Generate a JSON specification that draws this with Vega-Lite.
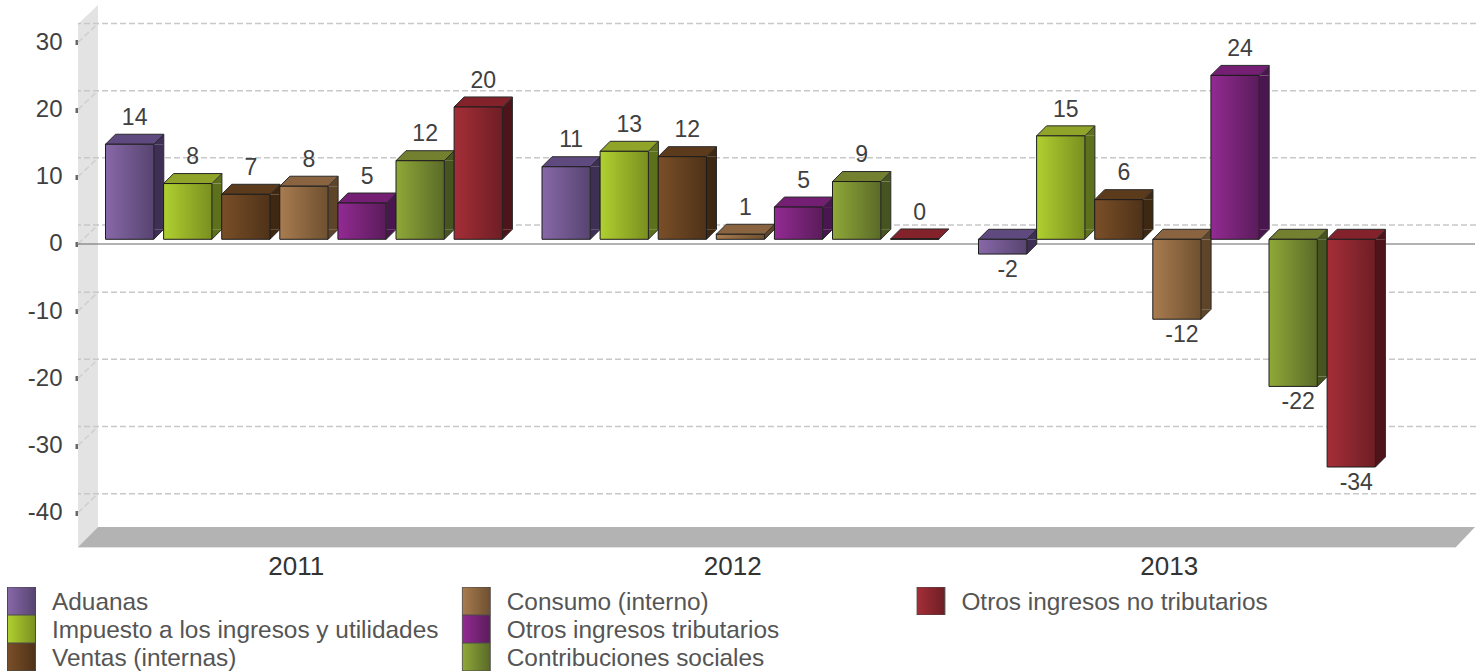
{"$schema":"https://vega.github.io/schema/vega-lite/v6.json","width":1378,"height":542,"autosize":{"type":"none"},"padding":{"left":78,"top":5,"right":27,"bottom":125},"background":"white",
"params":[{"name":"grad","expr":"{'Aduanas':{gradient:'linear',x1:0,y1:0,x2:1,y2:0,stops:[{offset:0,color:'#8768a8'},{offset:1,color:'#574470'}]},'Impuesto a los ingresos y utilidades':{gradient:'linear',x1:0,y1:0,x2:1,y2:0,stops:[{offset:0,color:'#b0d030'},{offset:1,color:'#7a8f20'}]},'Ventas (internas)':{gradient:'linear',x1:0,y1:0,x2:1,y2:0,stops:[{offset:0,color:'#7a4f28'},{offset:1,color:'#4e3218'}]},'Consumo (interno)':{gradient:'linear',x1:0,y1:0,x2:1,y2:0,stops:[{offset:0,color:'#a97c50'},{offset:1,color:'#6e5030'}]},'Otros ingresos tributarios':{gradient:'linear',x1:0,y1:0,x2:1,y2:0,stops:[{offset:0,color:'#932a93'},{offset:1,color:'#5a1c5a'}]},'Contribuciones sociales':{gradient:'linear',x1:0,y1:0,x2:1,y2:0,stops:[{offset:0,color:'#90a838'},{offset:1,color:'#5a6a28'}]},'Otros ingresos no tributarios':{gradient:'linear',x1:0,y1:0,x2:1,y2:0,stops:[{offset:0,color:'#a52e38'},{offset:1,color:'#6e1e24'}]}}"}],
"datasets":{"bars":[
{"year":"2011","series":"Aduanas","value":14.15,"upper":14.15,"lower":0},
{"year":"2011","series":"Impuesto a los ingresos y utilidades","value":8.3,"upper":8.3,"lower":0},
{"year":"2011","series":"Ventas (internas)","value":6.7,"upper":6.7,"lower":0},
{"year":"2011","series":"Consumo (interno)","value":7.9,"upper":7.9,"lower":0},
{"year":"2011","series":"Otros ingresos tributarios","value":5.4,"upper":5.4,"lower":0},
{"year":"2011","series":"Contribuciones sociales","value":11.7,"upper":11.7,"lower":0},
{"year":"2011","series":"Otros ingresos no tributarios","value":19.7,"upper":19.7,"lower":0},
{"year":"2012","series":"Aduanas","value":10.8,"upper":10.8,"lower":0},
{"year":"2012","series":"Impuesto a los ingresos y utilidades","value":13.1,"upper":13.1,"lower":0},
{"year":"2012","series":"Ventas (internas)","value":12.3,"upper":12.3,"lower":0},
{"year":"2012","series":"Consumo (interno)","value":0.75,"upper":0.75,"lower":0},
{"year":"2012","series":"Otros ingresos tributarios","value":4.8,"upper":4.8,"lower":0},
{"year":"2012","series":"Contribuciones sociales","value":8.6,"upper":8.6,"lower":0},
{"year":"2012","series":"Otros ingresos no tributarios","value":0.05,"upper":0.05,"lower":0},
{"year":"2013","series":"Aduanas","value":-2.2,"upper":0,"lower":-2.2},
{"year":"2013","series":"Impuesto a los ingresos y utilidades","value":15.4,"upper":15.4,"lower":0},
{"year":"2013","series":"Ventas (internas)","value":5.9,"upper":5.9,"lower":0},
{"year":"2013","series":"Consumo (interno)","value":-11.9,"upper":0,"lower":-11.9},
{"year":"2013","series":"Otros ingresos tributarios","value":24.4,"upper":24.4,"lower":0},
{"year":"2013","series":"Contribuciones sociales","value":-21.9,"upper":0,"lower":-21.9},
{"year":"2013","series":"Otros ingresos no tributarios","value":-33.9,"upper":0,"lower":-33.9}
],
"ticks":[{"tick":-40},{"tick":-30},{"tick":-20},{"tick":-10},{"tick":0},{"tick":10},{"tick":20},{"tick":30}]},
"config":{"view":{"stroke":null},"font":"Liberation Sans","locale":{"number":{"decimal":".","thousands":",","grouping":[3],"currency":["$",""],"minus":"-"}}},
"resolve":{"scale":{"fill":"independent","xOffset":"independent"}},
"layer":[
{"data":{"values":[{"piece":"wall"}]},"mark":{"type":"point","filled":true,"opacity":1,"size":4,"color":"#e3e3e3","shape":"M0 1L0 -523L20 -542L20 -20L0 0L1378 0L1378 1Z"},
"encoding":{"x":{"datum":"2011","bandPosition":0,"scale":{"domain":["2011","2012","2013"],"range":[0,1309.5],"paddingInner":0,"paddingOuter":0},"type":"nominal","axis":{"title":null,"labelAngle":0,"domain":false,"ticks":false,"labelPadding":6,"labelFontSize":26,"labelColor":"#333333","labelFont":"Liberation Sans"}},
"y":{"datum":-45.11,"type":"quantitative","scale":{"domain":[-45.11,35.58],"nice":false,"zero":false},"axis":{"title":null,"values":[-40,-30,-20,-10,0,10,20,30],"grid":false,"domain":false,"tickSize":3,"tickWidth":5,"tickColor":"#666666","labelPadding":13,"labelFontSize":24,"labelColor":"#404040","labelFont":"Liberation Sans"}}}},
{"data":{"values":[{"piece":"floor"}]},"mark":{"type":"point","filled":true,"opacity":1,"size":4,"color":"#b3b3b3","shape":"M0 0L20 -20L1397 -20L1378 0Z"},
"encoding":{"x":{"datum":"2011","bandPosition":0,"type":"nominal"},"y":{"datum":-45.11,"type":"quantitative"}}},
{"data":{"name":"ticks"},"mark":{"type":"rule","color":"#c8c8c8","strokeWidth":1.5,"strokeDash":[6,3],"xOffset":20,"x2Offset":20,"yOffset":-19},"encoding":{"y":{"field":"tick","type":"quantitative"}}},
{"data":{"name":"ticks"},"mark":{"type":"point","filled":false,"opacity":1,"size":4,"color":"#cfcfcf","strokeWidth":1.5,"strokeDash":[6,3],"shape":"M0 0L20 -19"},"encoding":{"x":{"datum":"2011","bandPosition":0,"type":"nominal"},"y":{"field":"tick","type":"quantitative"}}},
{"data":{"values":[{"tick":0}]},"mark":{"type":"point","filled":false,"opacity":1,"size":4,"color":"#666666","strokeWidth":1.2,"shape":"M0 0L1397 0"},"encoding":{"x":{"datum":"2011","bandPosition":0,"type":"nominal"},"y":{"field":"tick","type":"quantitative"}}},
{"data":{"name":"bars"},
"encoding":{"x":{"field":"year","type":"nominal"},
"xOffset":{"field":"series","type":"nominal","scale":{"type":"band","domain":["Aduanas","Impuesto a los ingresos y utilidades","Ventas (internas)","Consumo (interno)","Otros ingresos tributarios","Contribuciones sociales","Otros ingresos no tributarios"],"range":[27.5,424.4],"paddingInner":0.169,"paddingOuter":0}}},
"resolve":{"scale":{"fill":"independent","xOffset":"independent"}},
"layer":[
{"transform":[{"filter":"abs(datum.value)>=1.5"}],"mark":{"type":"bar","width":10,"yOffset":-4.7,"y2Offset":-14.7},
"encoding":{"xOffset":{"field":"series","type":"nominal","scale":{"type":"band","domain":["Aduanas","Impuesto a los ingresos y utilidades","Ventas (internas)","Consumo (interno)","Otros ingresos tributarios","Contribuciones sociales","Otros ingresos no tributarios"],"range":[56.65,453.55],"paddingInner":0.169,"paddingOuter":0}},"y":{"field":"upper","type":"quantitative"},"y2":{"field":"lower"},"fill":{"field":"series","type":"nominal","legend":null,"scale":{"domain":["Aduanas","Impuesto a los ingresos y utilidades","Ventas (internas)","Consumo (interno)","Otros ingresos tributarios","Contribuciones sociales","Otros ingresos no tributarios"],"range":["#3e2f55","#5d701c","#3e2812","#5e4428","#4a1650","#46541f","#4f141a"]}}}},
{"transform":[{"filter":"abs(datum.value)>=1.5"}],"mark":{"type":"point","filled":true,"opacity":1,"size":4,"yOffset":-4.7,"shape":"M24.15 0L34.15 -10L34.15 0Z"},
"encoding":{"y":{"field":"upper","type":"quantitative"},"fill":{"field":"series","type":"nominal","legend":null,"scale":{"domain":["Aduanas","Impuesto a los ingresos y utilidades","Ventas (internas)","Consumo (interno)","Otros ingresos tributarios","Contribuciones sociales","Otros ingresos no tributarios"],"range":["#3e2f55","#5d701c","#3e2812","#5e4428","#4a1650","#46541f","#4f141a"]}}}},
{"transform":[{"filter":"abs(datum.value)>=1.5"}],"mark":{"type":"point","filled":true,"opacity":1,"size":4,"yOffset":-4.7,"shape":"M24.15 0L24.15 -10L34.15 -10Z"},
"encoding":{"y":{"field":"lower","type":"quantitative"},"fill":{"field":"series","type":"nominal","legend":null,"scale":{"domain":["Aduanas","Impuesto a los ingresos y utilidades","Ventas (internas)","Consumo (interno)","Otros ingresos tributarios","Contribuciones sociales","Otros ingresos no tributarios"],"range":["#3e2f55","#5d701c","#3e2812","#5e4428","#4a1650","#46541f","#4f141a"]}}}},
{"transform":[{"filter":"abs(datum.value)<1.5 && abs(datum.value)>0.5"}],"mark":{"type":"point","filled":true,"opacity":1,"size":4,"yOffset":-4.7,"shape":"M24.15 0L34.15 -10L34.15 -5L24.15 5Z"},
"encoding":{"y":{"field":"upper","type":"quantitative"},"fill":{"field":"series","type":"nominal","legend":null,"scale":{"domain":["Aduanas","Impuesto a los ingresos y utilidades","Ventas (internas)","Consumo (interno)","Otros ingresos tributarios","Contribuciones sociales","Otros ingresos no tributarios"],"range":["#3e2f55","#5d701c","#3e2812","#5e4428","#4a1650","#46541f","#4f141a"]}}}},
{"transform":[{"filter":"abs(datum.value)>0.5"}],"mark":{"type":"point","filled":false,"opacity":1,"size":4,"yOffset":-4.7,"color":"#2a2a2a","strokeWidth":1,"shape":"M24.15 0L34.15 -10"},
"encoding":{"y":{"field":"lower","type":"quantitative"}}},
{"transform":[{"filter":"abs(datum.value)>0.5"}],"mark":{"type":"rule","color":"#2a2a2a","strokeWidth":1,"yOffset":-14.7,"y2Offset":-14.7},
"encoding":{"xOffset":{"field":"series","type":"nominal","scale":{"type":"band","domain":["Aduanas","Impuesto a los ingresos y utilidades","Ventas (internas)","Consumo (interno)","Otros ingresos tributarios","Contribuciones sociales","Otros ingresos no tributarios"],"range":[61.65,458.55],"paddingInner":0.169,"paddingOuter":0}},"y":{"field":"upper","type":"quantitative"},"y2":{"field":"lower"}}},
{"mark":{"type":"point","filled":true,"opacity":1,"size":4,"yOffset":-4.7,"stroke":"#2a2a2a","strokeWidth":1,"shape":"M-24.15 0L-14.15 -10L34.15 -10L24.15 0Z"},
"encoding":{"y":{"field":"upper","type":"quantitative"},"fill":{"field":"series","type":"nominal","legend":null,
"scale":{"domain":["Aduanas","Impuesto a los ingresos y utilidades","Ventas (internas)","Consumo (interno)","Otros ingresos tributarios","Contribuciones sociales","Otros ingresos no tributarios"],"range":["#5f4a80","#8fa428","#5c3a1c","#8a6440","#741f74","#728030","#84222c"]}}}},
{"mark":{"type":"bar","yOffset":-4.7,"y2Offset":-4.7,"stroke":"#1c1c1c","strokeWidth":1,"fill":{"expr":"grad[datum.series]"}},
"encoding":{"y":{"field":"upper","type":"quantitative"},"y2":{"field":"lower"}}},
{"mark":{"type":"point","filled":true,"opacity":0,"size":4},
"encoding":{"y":{"field":"upper","type":"quantitative"},"shape":{"field":"series","type":"nominal",
"legend":{"orient":"none","legendX":-71,"legendY":582,"direction":"vertical","columns":3,"title":null,"symbolType":"square","symbolSize":784,"clipHeight":28,"rowPadding":0,"columnPadding":22.7,"labelFontSize":24.4,"labelColor":"#555555","labelFont":"Liberation Sans","labelOffset":16,"labelLimit":600,"gridAlign":"all","padding":0,"encoding":{"labels":{"dy":{"value":2}},"symbols":{"fill":{"value":{"expr":"grad[datum.value]||'transparent'"}},"stroke":{"value":{"expr":"grad[datum.value]?'#4a4a4a':'transparent'"}},"strokeWidth":{"value":1},"opacity":{"value":1}}}},
"scale":{"domain":["Aduanas","Impuesto a los ingresos y utilidades","Ventas (internas)","Consumo (interno)","Otros ingresos tributarios","Contribuciones sociales","Otros ingresos no tributarios"," ","  "],"range":["square","square","square","square","square","square","square","square","square"]}}}},
{"transform":[{"filter":"datum.value>=0"}],"mark":{"type":"text","fontSize":23,"color":"#404040","baseline":"middle","yOffset":-31},
"encoding":{"xOffset":{"field":"series","type":"nominal","scale":{"type":"band","domain":["Aduanas","Impuesto a los ingresos y utilidades","Ventas (internas)","Consumo (interno)","Otros ingresos tributarios","Contribuciones sociales","Otros ingresos no tributarios"],"range":[32.5,429.4],"paddingInner":0.169,"paddingOuter":0}},"y":{"field":"value","type":"quantitative"},"text":{"field":"value","type":"quantitative","format":".0f"}}},
{"transform":[{"filter":"datum.value<0"}],"mark":{"type":"text","fontSize":23,"color":"#404040","baseline":"middle","yOffset":11},
"encoding":{"xOffset":{"field":"series","type":"nominal","scale":{"type":"band","domain":["Aduanas","Impuesto a los ingresos y utilidades","Ventas (internas)","Consumo (interno)","Otros ingresos tributarios","Contribuciones sociales","Otros ingresos no tributarios"],"range":[32.5,429.4],"paddingInner":0.169,"paddingOuter":0}},"y":{"field":"value","type":"quantitative"},"text":{"field":"value","type":"quantitative","format":".0f"}}}
]}
]}
